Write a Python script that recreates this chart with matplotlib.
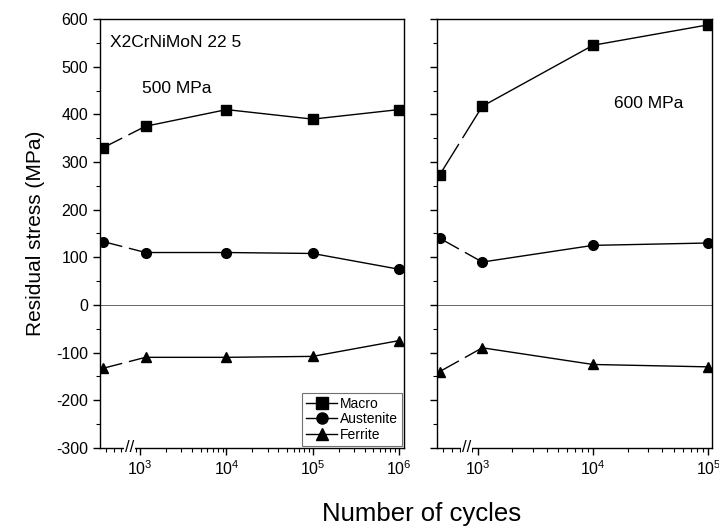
import numpy as np
import matplotlib
matplotlib.use("Agg")
import matplotlib.pyplot as plt
from matplotlib.ticker import LogLocator, MultipleLocator, NullFormatter

plt.rcParams["font.family"] = ["Liberation Sans", "DejaVu Sans"]
plt.rcParams["axes.unicode_minus"] = False

# %% data
cycles_500 = [370, 1150, 1e4, 1e5, 1e6]
macro_500 = [330, 375, 410, 390, 410]
aust_500 = [133, 110, 110, 108, 75]
ferr_500 = [-133, -110, -110, -108, -75]

cycles_600 = [470, 1100, 1e4, 1e5]
macro_600 = [273, 417, 545, 588]
aust_600 = [140, 90, 125, 130]
ferr_600 = [-140, -90, -125, -130]

series_names = ["Macro", "Austenite", "Ferrite"]
markers = ["s", "o", "^"]


def seg_length_pt(ax, x, y):
    # length of the first segment in points, to place the break gap
    p = ax.transData.transform(np.column_stack([x[:2], y[:2]]))
    return np.hypot(*(p[1] - p[0])) * 72.0 / ax.figure.dpi


def plot_panel(ax, cycles, values_list, xlim):
    ax.set_xscale("log")
    ax.set_xlim(xlim)
    ax.set_ylim(-300, 600)
    for vals, mk, name in zip(values_list, markers, series_names):
        L = seg_length_pt(ax, cycles, vals)
        # first segment crosses the axis break -> line with a gap
        ax.plot(cycles[:2], vals[:2], color="k", lw=1.0,
                linestyle=(0, (L * 0.45, 5, L)))
        ax.plot(cycles[1:], vals[1:], color="k", lw=1.0)
        ax.plot(cycles, vals, linestyle="none", marker=mk, color="k",
                markersize=7)
        ax.plot([], [], color="k", lw=1.0, marker=mk, markersize=8, label=name)
    ax.axhline(0, color="0.4", lw=0.7, zorder=0)
    ax.yaxis.set_major_locator(MultipleLocator(100))
    ax.yaxis.set_minor_locator(MultipleLocator(50))
    ax.xaxis.set_major_locator(LogLocator(base=10, numticks=10))
    ax.xaxis.set_minor_locator(LogLocator(base=10, subs=np.arange(2, 10), numticks=20))
    ax.xaxis.set_minor_formatter(NullFormatter())
    ax.tick_params(which="major", direction="out", length=5, width=1, labelsize=11.5)
    ax.tick_params(which="minor", direction="out", length=3, width=0.8)
    for sp in ax.spines.values():
        sp.set_linewidth(1.0)
    # axis break marks
    xb = 10 ** (np.log10(xlim[0]) + 0.33 * (np.log10(1e3) - np.log10(xlim[0])) * 2.2)
    ax.text(xb, -300, "//", ha="center", va="center", fontsize=12,
            transform=ax.transData, clip_on=False,
            bbox=dict(facecolor="white", edgecolor="none", pad=0.5))


fig = plt.figure(figsize=(7.19, 5.30), dpi=100)
ax1 = fig.add_axes([0.139, 0.155, 0.423, 0.809])
ax2 = fig.add_axes([0.608, 0.155, 0.382, 0.809])

plot_panel(ax1, cycles_500, [macro_500, aust_500, ferr_500], (340, 1.15e6))
plot_panel(ax2, cycles_600, [macro_600, aust_600, ferr_600], (447, 1.07e5))

ax2.set_yticklabels([])

ax1.text(0.033, 0.946, "X2CrNiMoN 22 5", transform=ax1.transAxes, fontsize=12.5,
         va="center")
ax1.text(0.138, 0.839, "500 MPa", transform=ax1.transAxes, fontsize=12.5,
         va="center")
ax2.text(0.644, 0.804, "600 MPa", transform=ax2.transAxes, fontsize=12.5,
         va="center")

leg = ax1.legend(loc="lower right", fontsize=10, frameon=True, fancybox=False,
                 edgecolor="0.3", handlelength=2.2, handletextpad=0.2,
                 labelspacing=0.1, borderpad=0.3, borderaxespad=0.15)
leg.get_frame().set_linewidth(0.8)

ax1.set_ylabel("Residual stress (MPa)", fontsize=15, labelpad=8)
fig.text(0.587, 0.03, "Number of cycles", ha="center", va="center", fontsize=18.5)

fig.savefig("out.png", dpi=100)
